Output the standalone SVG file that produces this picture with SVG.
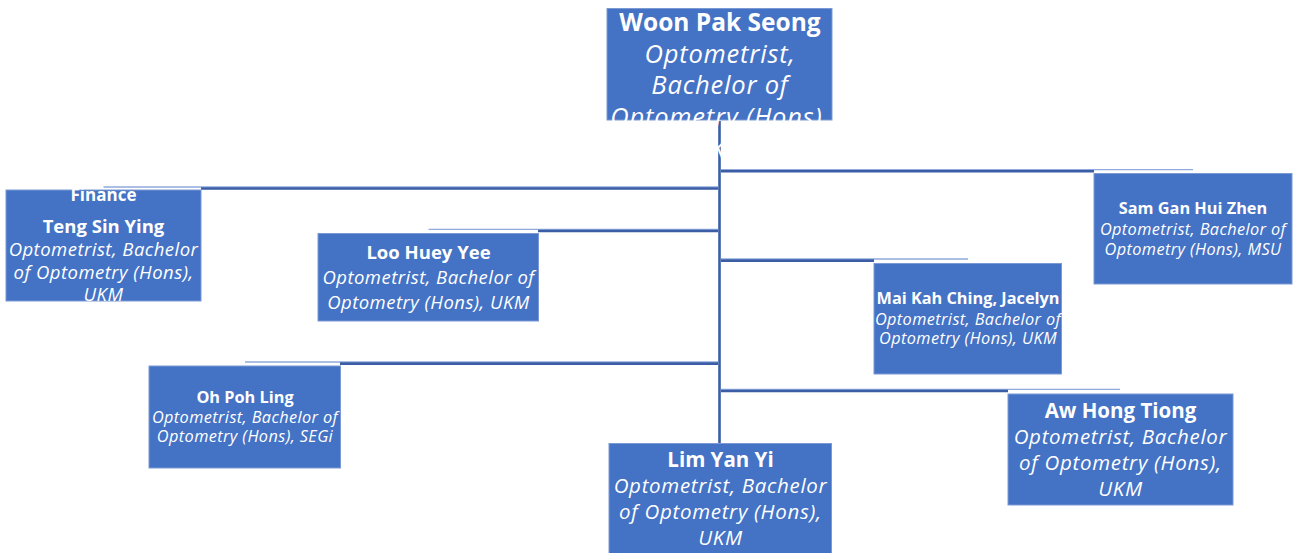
<svg xmlns="http://www.w3.org/2000/svg" width="1295" height="553" viewBox="0 0 1295 553">
<style>
.box{fill:#4472C4;stroke:#7B99D4;stroke-width:1}
.dk{stroke:#3A5DA6;stroke-width:2.6;fill:none}
.lt{stroke:#8FAADC;stroke-width:1.3;fill:none}
text{font-family:"Open Sans","Noto Sans",sans-serif;fill:#FFFFFF;text-anchor:middle}
.b{font-weight:700}
.i{font-style:italic}
.s16{letter-spacing:0.4px}
.s18{letter-spacing:0.48px}
.s20{letter-spacing:0.7px}
.s25{letter-spacing:0.8px}
</style>
<rect width="1295" height="553" fill="#FFFFFF"/>
<g id="connectors">
<line class="dk" x1="719.5" y1="121" x2="719.5" y2="443"/>
<line class="lt" x1="721" y1="169.6" x2="1193" y2="169.6"/>
<line class="dk" x1="721" y1="171.2" x2="1094" y2="171.2"/>
<line class="lt" x1="103.5" y1="187" x2="718" y2="187"/>
<line class="dk" x1="201" y1="188.5" x2="718" y2="188.5"/>
<line class="lt" x1="428.5" y1="229.4" x2="718" y2="229.4"/>
<line class="dk" x1="538" y1="231" x2="718" y2="231"/>
<line class="lt" x1="721" y1="259" x2="968" y2="259"/>
<line class="dk" x1="721" y1="260.6" x2="874" y2="260.6"/>
<line class="lt" x1="245" y1="362" x2="718" y2="362"/>
<line class="dk" x1="340" y1="363.6" x2="718" y2="363.6"/>
<line class="lt" x1="721" y1="389.4" x2="1120" y2="389.4"/>
<line class="dk" x1="721" y1="391" x2="1008" y2="391"/>
</g>
<g id="node-woon">
<rect class="box" x="607" y="8.5" width="225" height="111.5"/>
<text x="720" y="31" class="b" font-size="24.5">Woon Pak Seong</text>
<text x="720" y="63" class="i s25" font-size="25.5">Optometrist,</text>
<text x="720" y="94" class="i s25" font-size="25.5">Bachelor of</text>
<text x="720" y="126" class="i s25" font-size="25.5">Optometry (Hons),</text>
<text x="720" y="158" class="i s25" font-size="25.5">UKM</text>
</g>
<g id="node-teng">
<rect class="box" x="6" y="190" width="195" height="111"/>
<text x="103.5" y="201" class="b" font-size="17">Finance</text>
<text x="103.5" y="233" class="b" font-size="18.5">Teng Sin Ying</text>
<text x="103.5" y="256" class="i s18" font-size="18.5">Optometrist, Bachelor</text>
<text x="103.5" y="278.5" class="i s18" font-size="18.5">of Optometry (Hons),</text>
<text x="103.5" y="301" class="i s18" font-size="18.5">UKM</text>
</g>
<g id="node-loo">
<rect class="box" x="318" y="233.5" width="220.5" height="87.5"/>
<text x="428.5" y="259" class="b" font-size="18.5">Loo Huey Yee</text>
<text x="428.5" y="283.5" class="i s18" font-size="18.5">Optometrist, Bachelor of</text>
<text x="428.5" y="308.5" class="i s18" font-size="18.5">Optometry (Hons), UKM</text>
</g>
<g id="node-sam">
<rect class="box" x="1094" y="173.5" width="198" height="110.5"/>
<text x="1193" y="214" class="b" font-size="16.3">Sam Gan Hui Zhen</text>
<text x="1193" y="235" class="i s16" font-size="16.3">Optometrist, Bachelor of</text>
<text x="1193" y="255" class="i s16" font-size="16.3">Optometry (Hons), MSU</text>
</g>
<g id="node-mai">
<rect class="box" x="874" y="263.5" width="187.5" height="110.5"/>
<text x="968" y="304" class="b" font-size="16.3">Mai Kah Ching, Jacelyn</text>
<text x="968" y="324.5" class="i s16" font-size="16.3">Optometrist, Bachelor of</text>
<text x="968" y="344" class="i s16" font-size="16.3">Optometry (Hons), UKM</text>
</g>
<g id="node-oh">
<rect class="box" x="149" y="366" width="191.5" height="102"/>
<text x="245" y="402.5" class="b" font-size="16.3">Oh Poh Ling</text>
<text x="245" y="422.5" class="i s16" font-size="16.3">Optometrist, Bachelor of</text>
<text x="245" y="442" class="i s16" font-size="16.3">Optometry (Hons), SEGi</text>
</g>
<g id="node-aw">
<rect class="box" x="1008" y="394" width="225" height="111"/>
<text x="1120.5" y="417.5" class="b" font-size="20.5">Aw Hong Tiong</text>
<text x="1120.5" y="443.5" class="i s20" font-size="20.5">Optometrist, Bachelor</text>
<text x="1120.5" y="470" class="i s20" font-size="20.5">of Optometry (Hons),</text>
<text x="1120.5" y="496" class="i s20" font-size="20.5">UKM</text>
</g>
<g id="node-lim">
<rect class="box" x="609" y="443.5" width="222.5" height="110"/>
<text x="720.5" y="467" class="b" font-size="20.5">Lim Yan Yi</text>
<text x="720.5" y="493" class="i s20" font-size="20.5">Optometrist, Bachelor</text>
<text x="720.5" y="519" class="i s20" font-size="20.5">of Optometry (Hons),</text>
<text x="720.5" y="545" class="i s20" font-size="20.5">UKM</text>
</g>
</svg>
